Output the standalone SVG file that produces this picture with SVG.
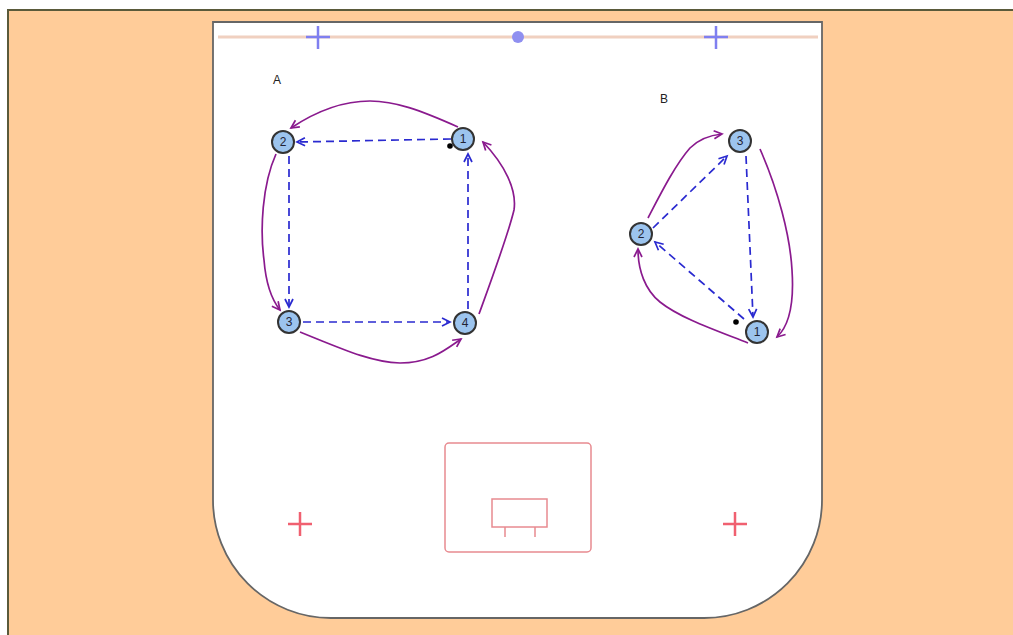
<svg xmlns="http://www.w3.org/2000/svg" width="1013" height="635" viewBox="0 0 1013 635">
<style>
.node circle{fill:#9cc4ee;stroke:#333;stroke-width:2}
.node text{font-family:"Liberation Sans",Arial,sans-serif;font-size:12px;fill:#223;text-anchor:middle}
.lbl{font-family:"Liberation Sans",Arial,sans-serif;font-size:12px;fill:#222}
.dash{fill:none;stroke:#2a2ad0;stroke-width:1.7;stroke-dasharray:8,5;marker-end:url(#ab)}
.pur{fill:none;stroke:#8a1a8e;stroke-width:1.7;marker-end:url(#ap)}
.mark{stroke-width:2.5;fill:none}
</style>
<defs>
<marker id="ab" markerWidth="12" markerHeight="12" refX="9" refY="5" orient="auto" markerUnits="userSpaceOnUse"><path d="M1,1 L9,5 L1,9" fill="none" stroke="#2a2ad0" stroke-width="1.7"/></marker>
<marker id="ap" markerWidth="12" markerHeight="12" refX="9" refY="5" orient="auto" markerUnits="userSpaceOnUse"><path d="M1,1 L9,5 L1,9" fill="none" stroke="#8a1a8e" stroke-width="1.7"/></marker>
</defs>
<rect x="0" y="0" width="1013" height="635" fill="#fff"/>
<rect x="8" y="10" width="1010" height="630" fill="#ffcc99" stroke="#5a5a3a" stroke-width="2"/>
<g id="court">
<path d="M213,22 L822,22 L822,500 A118,118 0 0 1 704,618 L331,618 A118,118 0 0 1 213,500 Z" fill="#fff" stroke="#666" stroke-width="1.8"/>
<line x1="218" y1="37" x2="818" y2="37" stroke="#f0d0c0" stroke-width="3"/>
<g stroke="#7f7ff0" class="mark"><path d="M306,37 H330 M318,26 V49"/><path d="M704,37 H728 M716,26 V49"/></g>
<circle cx="518" cy="37" r="6" fill="#8f8ff0"/>
<g stroke="#f06070" class="mark"><path d="M288,524 H312 M300,512 V536"/><path d="M723,524 H747 M735,512 V536"/></g>
<g fill="none" stroke="#e88a90" stroke-width="1.5">
<rect x="445" y="443" width="146" height="109" rx="4"/>
<rect x="492" y="499" width="55" height="28"/>
<path d="M505,527 V537 M535,527 V537"/>
</g>
</g>
<text class="lbl" x="273" y="84">A</text>
<text class="lbl" x="660" y="103">B</text>
<g id="connectors">
<path class="dash" d="M451,139 L297,142"/>
<path class="dash" d="M289,156 L289,307"/>
<path class="dash" d="M303,322 L450,322"/>
<path class="dash" d="M468,309 L468,154"/>
<path class="pur" d="M458,127 C420,110 395,101 370,101 C340,101 315,112 291,128"/>
<path class="pur" d="M276,154 C262,185 260,230 264,260 C266,285 272,300 280,310"/>
<path class="pur" d="M300,332 C340,348 370,362 400,363 C430,363 445,350 461,339"/>
<path class="pur" d="M479,314 C495,270 508,235 514,210 C517,190 505,165 483,142"/>
<path class="dash" d="M653,228 L727,156"/>
<path class="dash" d="M746,156 L753,317"/>
<path class="dash" d="M744,319 L655,242"/>
<path class="pur" d="M648,218 C660,195 675,165 690,148 C700,138 712,135 722,134"/>
<path class="pur" d="M760,149 C778,190 790,235 792,270 C794,300 790,325 777,337"/>
<path class="pur" d="M748,343 C715,330 680,318 660,302 C645,290 638,270 638,249"/>
</g>
<g id="dots" fill="#000"><circle cx="450" cy="146" r="2.8"/><circle cx="736" cy="322" r="2.8"/></g>
<g id="A1" class="node"><circle cx="463" cy="139" r="11"/><text x="463" y="143">1</text></g>
<g id="A2" class="node"><circle cx="283" cy="142" r="11"/><text x="283" y="146">2</text></g>
<g id="A3" class="node"><circle cx="289" cy="322" r="11"/><text x="289" y="326">3</text></g>
<g id="A4" class="node"><circle cx="465" cy="323" r="11"/><text x="465" y="327">4</text></g>
<g id="B1" class="node"><circle cx="757" cy="332" r="11"/><text x="757" y="336">1</text></g>
<g id="B2" class="node"><circle cx="641" cy="234" r="11"/><text x="641" y="238">2</text></g>
<g id="B3" class="node"><circle cx="740" cy="141" r="11"/><text x="740" y="145">3</text></g>
</svg>
